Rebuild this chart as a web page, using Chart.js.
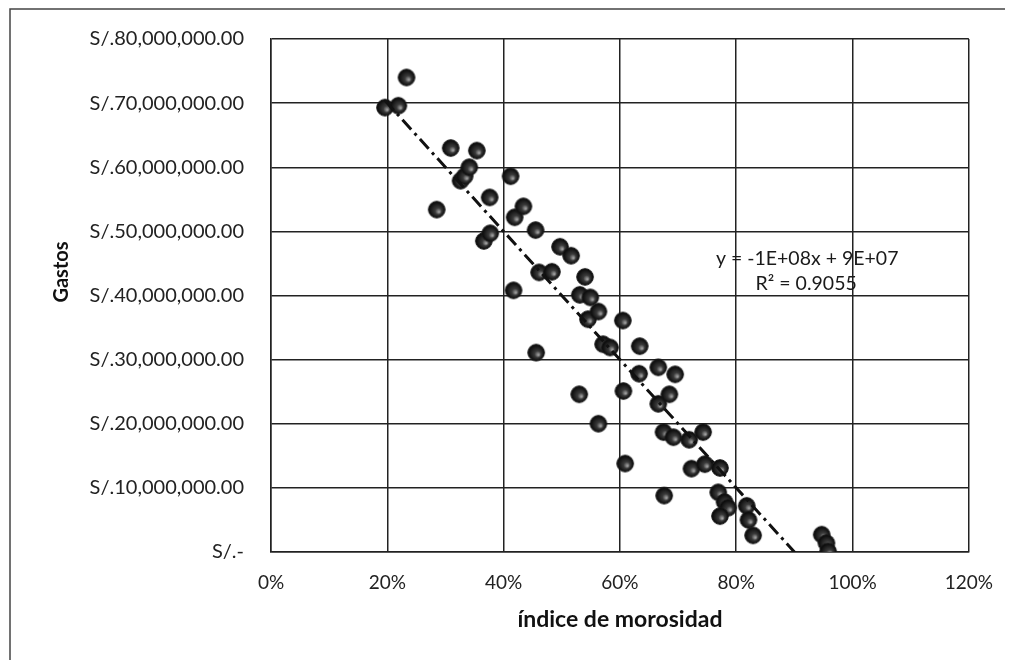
<!DOCTYPE html>
<html>
<head>
<meta charset="utf-8">
<script src="https://cdn.jsdelivr.net/npm/chart.js@4.4.1/dist/chart.umd.min.js"></script>
<style>
  html, body { margin: 0; padding: 0; background: #fff; }
  #wrap { width: 1012px; height: 660px; position: relative; }
</style>
</head>
<body>
<div id="wrap"><canvas id="c" width="1012" height="660"></canvas></div>
<script>
// índice de morosidad (fraction)
const morosidad = [
  0.196, 0.219, 0.233, 0.285, 0.309, 0.326, 0.333, 0.341, 0.354, 0.366,
  0.377, 0.376, 0.412, 0.417, 0.419, 0.434, 0.455, 0.456, 0.461, 0.483,
  0.497, 0.516, 0.530, 0.531, 0.540, 0.549, 0.545, 0.563, 0.563, 0.571,
  0.583, 0.605, 0.606, 0.609, 0.633, 0.634, 0.666, 0.666, 0.685, 0.695,
  0.675, 0.692, 0.719, 0.743, 0.723, 0.746, 0.772, 0.676, 0.769, 0.780,
  0.786, 0.772, 0.818, 0.821, 0.829, 0.947, 0.955, 0.958
];
// Gastos (millones de soles)
const gastosMillones = [
  69.3, 69.6, 74.0, 53.4, 63.0, 57.9, 58.6, 60.0, 62.6, 48.5,
  49.7, 55.3, 58.6, 40.8, 52.2, 53.9, 50.2, 31.1, 43.6, 43.7,
  47.6, 46.2, 24.6, 40.1, 42.9, 39.7, 36.3, 37.5, 20.0, 32.4,
  31.9, 36.1, 25.1, 13.8, 27.8, 32.1, 28.8, 23.1, 24.6, 27.7,
  18.7, 17.9, 17.5, 18.7, 13.0, 13.7, 13.1, 8.8, 9.3, 7.8,
  6.9, 5.6, 7.2, 5.0, 2.6, 2.7, 1.4, 0.1
];
const xTickLabels = ['0%', '20%', '40%', '60%', '80%', '100%', '120%'];
const yTickLabels = ['S/.-', 'S/.10,000,000.00', 'S/.20,000,000.00', 'S/.30,000,000.00',
  'S/.40,000,000.00', 'S/.50,000,000.00', 'S/.60,000,000.00', 'S/.70,000,000.00', 'S/.80,000,000.00'];
// trendline coefficients as printed on the chart
const trendSlope = -1e8;
const trendIntercept = 9e7;
const equationText = 'y = -1E+08x + 9E+07';
const r2Text = 'R\u00B2 = 0.9055';
const xTitle = 'índice de morosidad';
const yTitle = 'Gastos';

const points = morosidad.map((x, i) => ({ x: x, y: gastosMillones[i] * 1e6 }));
const xmin = Math.min(...morosidad), xmax = Math.max(...morosidad);
const trend = [
  { x: xmin, y: trendIntercept + trendSlope * xmin },
  { x: xmax, y: trendIntercept + trendSlope * xmax }
];

// sphere-like marker
function makeMarker() {
  const s = 20, c = document.createElement('canvas');
  c.width = s; c.height = s;
  const g = c.getContext('2d');
  const r = 8.3;
  const grad = g.createRadialGradient(s/2 + 2.4, s/2 + 2.4, 0.5, s/2, s/2, r);
  grad.addColorStop(0, '#a0a0a0');
  grad.addColorStop(0.35, '#3a3a3a');
  grad.addColorStop(1, '#050505');
  g.beginPath(); g.arc(s/2, s/2, r, 0, Math.PI * 2);
  g.fillStyle = grad; g.fill();
  g.lineWidth = 1; g.strokeStyle = '#1a1a1a'; g.stroke();
  return c;
}
const marker = makeMarker();

const framePlugin = {
  id: 'frame',
  beforeDraw(chart) {
    const ctx = chart.ctx;
    ctx.save();
    ctx.fillStyle = '#ffffff';
    ctx.fillRect(0, 0, chart.width, chart.height);
    ctx.strokeStyle = '#444';
    ctx.lineWidth = 1.5;
    ctx.beginPath();
    ctx.moveTo(10, 660); ctx.lineTo(10, 9); ctx.lineTo(1005, 9);
    ctx.stroke();
    // y-axis title
    ctx.translate(62, 272);
    ctx.rotate(-Math.PI / 2);
    ctx.fillStyle = '#111';
    ctx.font = 'bold 20px Lato, "Open Sans", sans-serif';
    ctx.textAlign = 'center';
    ctx.textBaseline = 'middle';
    ctx.fillText(yTitle, 0, 0);
    ctx.restore();
  },
  afterDatasetsDraw(chart) {
    const ctx = chart.ctx;
    const xs = chart.scales.x, ys = chart.scales.y;
    const cx = xs.getPixelForValue(0.922);
    ctx.save();
    ctx.fillStyle = '#1a1a1a';
    ctx.font = '19.5px Lato, "Open Sans", sans-serif';
    ctx.textAlign = 'center';
    ctx.textBaseline = 'middle';
    ctx.fillText(equationText, cx, ys.getPixelForValue(45.7e6));
    ctx.fillText(r2Text, cx - 1, ys.getPixelForValue(41.9e6));
    ctx.restore();
  }
};

new Chart(document.getElementById('c'), {
  type: 'scatter',
  data: {
    datasets: [
      {
        label: 'trend',
        type: 'line',
        data: trend,
        borderColor: '#111',
        borderWidth: 3,
        borderDash: [13, 5, 3, 5],
        pointRadius: 0,
        fill: false,
        order: 0
      },
      {
        label: 'Gastos',
        data: points,
        pointStyle: marker,
        pointRadius: 8,
        order: 1
      }
    ]
  },
  plugins: [framePlugin],
  options: {
    responsive: false,
    animation: false,
    events: [],
    layout: { padding: { left: 45, top: 36, right: 43, bottom: 25 } },
    plugins: { legend: { display: false }, tooltip: { enabled: false } },
    scales: {
      x: {
        type: 'linear', min: 0, max: 1.2,
        afterFit(s) { s.height = 83; },
        afterBuildTicks(s) { s.ticks = xTickLabels.map((_, i) => ({ value: i * 0.2 })); },
        grid: { color: '#222', lineWidth: 1.5, drawTicks: false },
        border: { color: '#222', width: 1.5 },
        ticks: {
          padding: 19,
          color: '#222',
          font: { family: 'Lato, "Open Sans", sans-serif', size: 19 },
          callback: (v, i) => xTickLabels[i]
        },
        title: {
          display: true, text: xTitle, color: '#111',
          font: { family: 'Lato, "Open Sans", sans-serif', size: 23, weight: 'bold' },
          padding: { top: 0, bottom: 2 }
        }
      },
      y: {
        type: 'linear', min: 0, max: 80e6,
        afterFit(s) { s.width = 226; },
        afterBuildTicks(s) { s.ticks = yTickLabels.map((_, i) => ({ value: i * 10e6 })); },
        grid: { color: '#222', lineWidth: 1.5, drawTicks: false },
        border: { color: '#222', width: 1.5 },
        ticks: {
          padding: 27,
          color: '#222',
          font: { family: 'Lato, "Open Sans", sans-serif', size: 20 },
          callback: (v, i) => yTickLabels[i]
        },
        title: { display: false }
      }
    }
  }
});
</script>
</body>
</html>
